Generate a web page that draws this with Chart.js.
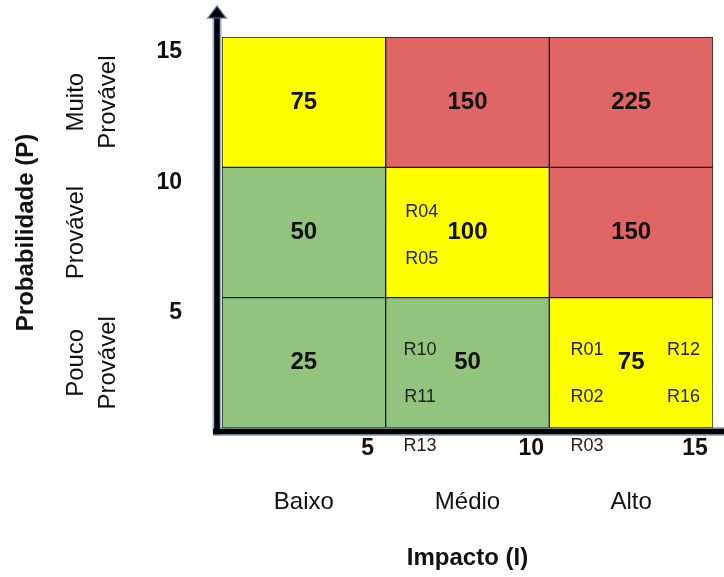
<!DOCTYPE html>
<html>
<head>
<meta charset="utf-8">
<script src="https://cdn.jsdelivr.net/npm/chart.js@4"></script>
<style>
html, body { margin: 0; padding: 0; background: #fff; }
#wrap { width: 724px; height: 577px; }
</style>
</head>
<body>
<div id="wrap"><canvas id="myChart"></canvas></div>
<script>
// impact (x) and probability (y) categories
var impactLabels = ['Baixo', 'Médio', 'Alto'];
var probLabels = [['Pouco', 'Provável'], ['Provável'], ['Muito', 'Provável']];
var edges = [0, 5, 10, 15];
var tickValues = [5, 10, 15];

// scores per row, bottom row first
var scoresPouco = [25, 50, 75];
var scoresProvavel = [50, 100, 150];
var scoresMuito = [75, 150, 225];
var rows = [scoresPouco, scoresProvavel, scoresMuito];

// risks placed in the matrix (I, P)
var riskNames = ['R04', 'R05', 'R10', 'R11', 'R13', 'R01', 'R02', 'R03', 'R12', 'R16'];
var riskI = [6.1, 6.1, 6.05, 6.05, 6.05, 11.15, 11.15, 11.15, 14.1, 14.1];
var riskP = [8.3, 6.5, 3.0, 1.2, -0.7, 3.0, 1.2, -0.7, 3.0, 1.2];

var FONT = '"Liberation Sans", Arial, sans-serif';

function cellColor(v) {
    if (v >= 150) return '#e06666';
    if (v >= 75) return '#ffff00';
    return '#93c47d';
}

var datasets = rows.map(function(scores, r) {
    return {
        grouped: false,
        data: scores.map(function(s, k) {
            return { x: (edges[k] + edges[k + 1]) / 2, y: [edges[r], edges[r + 1]] };
        }),
        backgroundColor: scores.map(cellColor),
        borderColor: '#1a1a1a',
        borderWidth: 1,
        borderSkipped: false,
        barPercentage: 1,
        categoryPercentage: 1
    };
});
datasets.push({
    type: 'scatter',
    data: riskNames.map(function(n, i) { return { x: riskI[i], y: riskP[i] }; }),
    pointRadius: 0,
    pointHoverRadius: 0
});

var matrixText = {
    id: 'matrixText',
    afterDatasetsDraw: function(chart) {
        var ctx = chart.ctx;
        ctx.save();
        ctx.textAlign = 'center';
        ctx.textBaseline = 'middle';
        ctx.fillStyle = '#111';
        ctx.font = 'bold 24px ' + FONT;
        for (var r = 0; r < rows.length; r++) {
            chart.getDatasetMeta(r).data.forEach(function(bar, k) {
                ctx.fillText(rows[r][k], bar.x, (bar.y + bar.base) / 2);
            });
        }
        ctx.font = '18px ' + FONT;
        ctx.fillStyle = '#222';
        chart.getDatasetMeta(rows.length).data.forEach(function(pt, i) {
            ctx.fillText(riskNames[i], pt.x, pt.y);
        });
        ctx.restore();
    },
    afterDraw: function(chart) {
        var ctx = chart.ctx;
        var a = chart.chartArea;
        var xs = chart.scales.x, ys = chart.scales.y;
        var ax = a.left - 5, ay = a.bottom + 3.5;
        ctx.save();
        // axis lines with a bluish halo
        function lines() {
            ctx.beginPath();
            ctx.moveTo(ax, a.top - 20);
            ctx.lineTo(ax, ay + 3);
            ctx.moveTo(ax - 4, ay);
            ctx.lineTo(chart.width, ay);
            ctx.stroke();
        }
        ctx.strokeStyle = 'rgba(70,110,160,0.55)';
        ctx.lineWidth = 9;
        lines();
        ctx.strokeStyle = '#000';
        ctx.lineWidth = 5.5;
        lines();
        ctx.beginPath();
        ctx.moveTo(ax, a.top - 31);
        ctx.lineTo(ax + 9, a.top - 19);
        ctx.lineTo(ax - 9, a.top - 19);
        ctx.closePath();
        ctx.fillStyle = '#000';
        ctx.fill();
        ctx.strokeStyle = 'rgba(70,110,160,0.55)';
        ctx.lineWidth = 2;
        ctx.stroke();

        // category labels
        ctx.fillStyle = '#111';
        ctx.textAlign = 'center';
        ctx.textBaseline = 'middle';
        ctx.font = '24px ' + FONT;
        impactLabels.forEach(function(lab, k) {
            var cx = (xs.getPixelForValue(edges[k]) + xs.getPixelForValue(edges[k + 1])) / 2;
            ctx.fillText(lab, cx, a.bottom + 74);
        });
        probLabels.forEach(function(lines, r) {
            var cy = (ys.getPixelForValue(edges[r]) + ys.getPixelForValue(edges[r + 1])) / 2;
            ctx.save();
            ctx.translate(a.left - 146, cy);
            ctx.rotate(-Math.PI / 2);
            lines.forEach(function(t, j) { ctx.fillText(t, 0, j * 32); });
            ctx.restore();
        });
        ctx.restore();
    }
};

var ctx = document.getElementById('myChart').getContext('2d');
var chart = new Chart(ctx, {
    type: 'bar',
    data: { datasets: datasets },
    options: {
        responsive: true,
        maintainAspectRatio: false,
        animation: false,
        layout: { padding: { top: 37, right: 11, left: 0, bottom: 0 } },
        plugins: { legend: { display: false }, tooltip: { enabled: false } },
        scales: {
            x: {
                type: 'linear',
                min: 0,
                max: 15,
                offset: false,
                grid: { display: false, drawTicks: false },
                border: { display: false },
                afterBuildTicks: function(s) { s.ticks = tickValues.map(function(v) { return { value: v }; }); },
                afterFit: function(s) { s.height = 149; s.paddingLeft = 0; s.paddingRight = 0; },
                ticks: {
                    autoSkip: false,
                    maxRotation: 0,
                    padding: 7,
                    labelOffset: -18,
                    color: '#111',
                    font: { family: FONT, size: 23, weight: 'bold' }
                },
                title: {
                    display: true,
                    text: 'Impacto (I)',
                    color: '#111',
                    padding: { top: 7 },
                    font: { family: FONT, size: 24, weight: 'bold' }
                }
            },
            y: {
                type: 'linear',
                min: 0,
                max: 15,
                grid: { display: false, drawTicks: false },
                border: { display: false },
                afterBuildTicks: function(s) { s.ticks = tickValues.map(function(v) { return { value: v }; }); },
                afterFit: function(s) { s.width = 222; s.paddingTop = 0; s.paddingBottom = 0; },
                ticks: {
                    autoSkip: false,
                    padding: 40,
                    labelOffset: 15,
                    color: '#111',
                    font: { family: FONT, size: 23, weight: 'bold' }
                },
                title: {
                    display: true,
                    text: 'Probabilidade (P)',
                    color: '#111',
                    padding: { top: 12 },
                    font: { family: FONT, size: 24, weight: 'bold' }
                }
            }
        }
    },
    plugins: [matrixText]
});
</script>
</body>
</html>
